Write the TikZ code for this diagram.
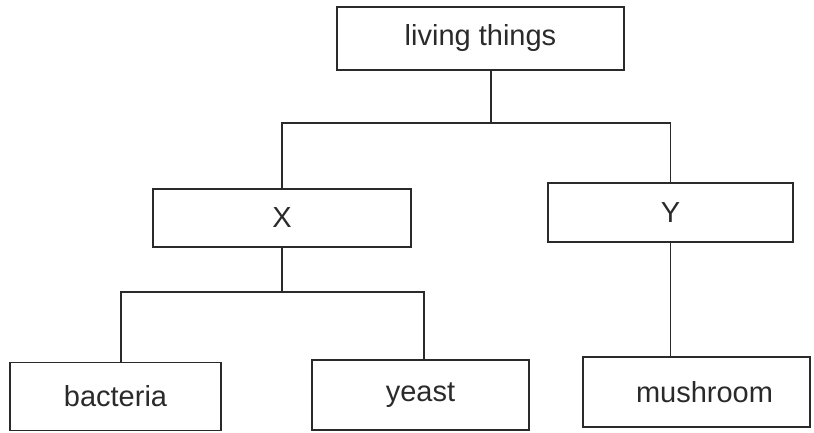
\documentclass[tikz,border=0pt]{standalone}
\usepackage{fontspec}
\setmainfont{Liberation Sans}
\definecolor{ink}{HTML}{2A2A2A}
\begin{document}
\begin{tikzpicture}[x=1pt,y=-1pt,
  box/.style={draw=ink,line width=1.4pt,inner sep=0pt,text=ink,
    font=\fontsize{29}{34}\selectfont},
  link/.style={draw=ink,line width=1.4pt}]
\useasboundingbox (0,0) rectangle (814,433);
\node[box,minimum width=287pt,minimum height=63pt] (lt) at (480.5,38.5) {living things};
\node[box,minimum width=258pt,minimum height=58pt] (X) at (282,218) {X};
\node[box,minimum width=245pt,minimum height=59pt] (Y) at (670.5,212.5) {Y};
\node[box,minimum width=211pt,minimum height=68pt] (bac) at (115.5,396.5) {bacteria};
\node[box,minimum width=217pt,minimum height=70pt] (yeast) at (420.5,395) {yeast};
\node[box,minimum width=227pt,minimum height=70pt] (mush) at (696.5,392) {\hspace{16pt}mushroom};
\coordinate (j1) at (491,123);
\coordinate (jb) at (121,292);
\coordinate (jy) at (424,292);
\draw[link] (j1 |- lt.south) -- (j1);
\draw[link] (X.north) |- (j1) -| (Y.north);
\draw[link] (X.south) -- (X.south |- jb);
\draw[link] (jb |- bac.north) -- (jb) -- (jy) -- (jy |- yeast.north);
\draw[link] (Y.south) -- (Y.south |- mush.north);
\end{tikzpicture}
\end{document}
